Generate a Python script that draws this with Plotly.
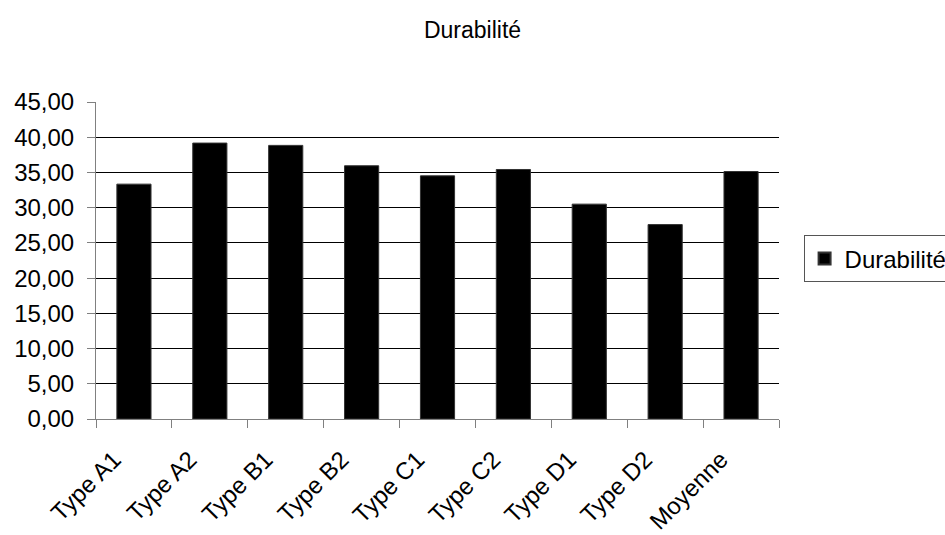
import plotly.graph_objects as go

categories = ["Type A1", "Type A2", "Type B1", "Type B2", "Type C1",
              "Type C2", "Type D1", "Type D2", "Moyenne"]
durabilite = [33.34, 39.17, 38.84, 35.95, 34.52, 35.42, 30.50, 27.60, 35.13]
series_name = "Durabilité"
y_ticks = [0, 5, 10, 15, 20, 25, 30, 35, 40, 45]

font_family = "Liberation Sans, Arial, sans-serif"

fig = go.Figure()
fig.add_trace(go.Bar(
    x=categories, y=durabilite, name=series_name,
    marker=dict(color="black", line=dict(color="#333333", width=1)),
    showlegend=True,
))

fig.update_layout(
    width=945, height=535,
    paper_bgcolor="white", plot_bgcolor="white",
    margin=dict(l=96, r=166, t=102, b=116, autoexpand=False),
    separators=", ",
    bargap=0.55,
    font=dict(family=font_family, size=22, color="black"),
    title=dict(text="Durabilité", x=0.5, xref="container", xanchor="center",
               y=1 - 30 / 535, yref="container", yanchor="middle",
               font=dict(family=font_family, size=23, color="black")),
    legend=dict(x=1.036, xanchor="left", y=0.505, yanchor="middle",
                bordercolor="#555555", borderwidth=1,
                font=dict(family=font_family, size=24, color="black"),
                itemsizing="constant", itemwidth=30),
    xaxis=dict(
        tickangle=-45, showgrid=False,
        showline=True, linecolor="#808080", linewidth=1,
        ticks="outside", ticklen=8, tickcolor="#808080", tickson="boundaries",
        ticklabelstandoff=16, ticklabelshift=-20,
        tickfont=dict(family=font_family, size=24, color="black"),
    ),
    yaxis=dict(
        range=[0, 45], tickvals=y_ticks, tickformat=".2f",
        showgrid=True, gridcolor="black", gridwidth=1,
        showline=True, linecolor="#808080", linewidth=1,
        ticks="outside", ticklen=8, tickcolor="#808080",
        ticklabelstandoff=8,
        zeroline=False,
        tickfont=dict(family=font_family, size=24, color="black"),
    ),
)

fig.write_html("out.html", config={"displayModeBar": False},
               post_script="document.body.style.margin='0';")
